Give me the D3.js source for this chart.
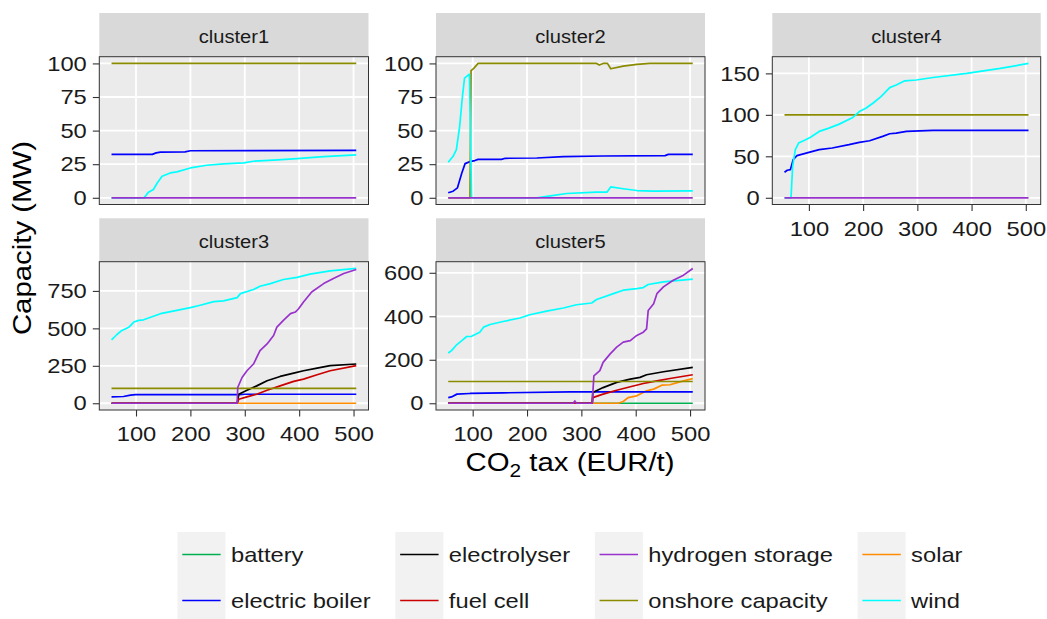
<!DOCTYPE html>
<html>
<head>
<meta charset="utf-8">
<script src="https://cdn.jsdelivr.net/npm/d3@7"></script>
<style>
  body { margin: 0; background: #fff; }
  svg { display: block; font-family: "Liberation Sans", Arial, sans-serif; }
</style>
</head>
<body>
<script>
// ---- data ----
const techs = ["battery", "electric boiler", "electrolyser", "fuel cell",
               "hydrogen storage", "onshore capacity", "solar", "wind"];
const techColors = ["#00b050", "#0000ff", "#000000", "#cc0000",
                    "#9932cc", "#8b8b00", "#ff8c00", "#00ffff"];
// order the lines are painted in (hydrogen storage ends up on top)
const drawOrder = ["battery", "solar", "electric boiler", "electrolyser",
                   "fuel cell", "onshore capacity", "wind", "hydrogen storage"];

const taxRange = [55, 505];
const xTicks = [100, 200, 300, 400, 500];
const yTicks1 = [0, 25, 50, 75, 100];
const yTicks2 = [0, 25, 50, 75, 100];
const yTicks3 = [0, 250, 500, 750];
const yTicks4 = [0, 50, 100, 150];
const yTicks5 = [0, 200, 400, 600];

// cluster1  [CO2 tax, MW]
const c1Boiler = [[55, 32.3], [130, 32.3], [137, 33.4], [145, 34], [190, 34.2], [200, 35], [505, 35.3]];
const c1H2 = [[55, 0], [505, 0]];
const c1Onshore = [[55, 100], [505, 100]];
const c1Wind = [[55, 0], [115, 0], [123, 4.2], [132, 6.2], [139, 11], [148, 16], [163, 18.5], [175, 19.3],
                [200, 22.2], [230, 24.2], [261, 25.2], [298, 26], [316, 27.2], [353, 28], [396, 29.1],
                [445, 30.6], [505, 31.9]];

// cluster2
const c2Boiler = [[55, 3.7], [64, 4.9], [72, 7.4], [80, 18.5], [86, 25.4], [95, 26.9], [104, 27.7],
                  [110, 28.6], [153, 28.6], [160, 29.4], [218, 29.6], [267, 30.6], [340, 31.1],
                  [454, 31.4], [460, 32.3], [505, 32.3]];
const c2H2 = [[55, 0], [505, 0]];
const c2Onshore = [[55, 0], [95, 0], [97, 94.6], [102, 96.3], [110, 100], [328, 100], [333, 98.8],
                   [340, 100], [348, 100], [354, 96], [377, 98], [402, 99.3], [426, 100], [505, 100]];
const c2Wind = [[55, 26.4], [64, 30.9], [70, 35.8], [76, 53], [81, 75], [85, 89], [94, 92], [98, 0],
                [218, 0], [240, 1.2], [273, 3.2], [328, 4.2], [347, 4.2], [354, 8.1], [377, 6.7],
                [402, 5.4], [432, 4.9], [505, 5.2]];

// cluster3
const c3Boiler = [[55, 43], [77, 45], [90, 54], [99, 58], [290, 58], [300, 60], [505, 60]];
const c3Electrolyser = [[55, 0], [286, 0], [289, 60], [304, 87], [322, 116], [341, 150], [365, 179],
                        [390, 201], [408, 217], [433, 235], [457, 251], [505, 262]];
const c3FuelCell = [[55, 0], [286, 0], [289, 27], [304, 43], [322, 60], [341, 87], [365, 116],
                    [390, 146], [408, 161], [433, 190], [457, 217], [505, 251]];
const c3H2 = [[55, 0], [286, 0], [287, 105], [295, 172], [304, 217], [316, 262], [328, 351], [341, 396],
              [353, 452], [359, 508], [371, 553], [384, 598], [393, 609], [399, 631], [408, 676],
              [423, 743], [445, 799], [463, 833], [482, 866], [505, 893]];
const c3Onshore = [[55, 100], [505, 100]];
const c3Solar = [[55, 0], [505, 0]];
const c3Wind = [[55, 423], [65, 459], [74, 486], [87, 508], [96, 542], [105, 553], [114, 557], [145, 598],
                [175, 620], [200, 638], [218, 654], [243, 678], [261, 683], [286, 705], [292, 732],
                [316, 759], [328, 781], [347, 799], [371, 826], [396, 840], [420, 862], [457, 884],
                [505, 900]];

// cluster4
const c4Boiler = [[55, 30.8], [60, 33.2], [66, 34], [71, 46], [78, 50.8], [100, 54.8], [119, 58],
                  [143, 60], [174, 64], [193, 66.8], [212, 68.8], [236, 74], [249, 77.2], [261, 78],
                  [280, 80], [329, 81.2], [505, 81.2]];
const c4H2 = [[55, 0], [505, 0]];
const c4Onshore = [[55, 100], [505, 100]];
const c4Wind = [[55, 0], [67, 0], [70, 38], [75, 58], [81, 66], [94, 70], [103, 73], [119, 80], [137, 84],
                [156, 88.8], [181, 96.8], [193, 104], [205, 108], [218, 114], [233, 122], [249, 132.8],
                [261, 136], [277, 141], [298, 142], [329, 145], [391, 150], [453, 156], [505, 162]];

// cluster5
const c5Battery = [[55, 0], [505, 0]];
const c5Boiler = [[55, 26], [61, 29], [71, 42], [95, 45], [156, 48], [279, 52], [505, 52]];
const c5Electrolyser = [[55, 0], [320, 0], [321, 49], [340, 72], [365, 96], [390, 111], [408, 119],
                        [420, 131], [451, 145], [505, 165]];
const c5FuelCell = [[55, 0], [320, 0], [321, 26], [340, 42], [365, 60], [390, 76], [414, 91],
                    [439, 103], [463, 114], [505, 131]];
const c5H2 = [[55, 0], [285, 0], [288, 11], [291, 0], [320, 0], [323, 126], [334, 150], [340, 188],
              [353, 227], [365, 258], [377, 281], [390, 288], [402, 312], [414, 327], [420, 342],
              [423, 427], [433, 458], [439, 504], [451, 535], [469, 566], [488, 589], [505, 620]];
const c5Onshore = [[55, 100], [505, 100]];
const c5Solar = [[55, 0], [285, 0], [288, 5], [291, 0], [368, 0], [377, 8], [386, 26], [402, 34],
                 [420, 57], [433, 65], [448, 83], [463, 85], [488, 103], [505, 113]];
const c5Wind = [[55, 231], [61, 242], [71, 270], [80, 288], [89, 307], [98, 308], [113, 327], [120, 350],
                [132, 362], [156, 376], [187, 392], [205, 407], [236, 424], [267, 438], [291, 453],
                [319, 461], [328, 477], [359, 504], [377, 520], [402, 527], [414, 532], [423, 546],
                [451, 558], [505, 571]];

// ---- layout ----
const width = 1047, height = 619;
const wide = 1.13;   // the reference type is set a bit wider than Helvetica
const color = d3.scaleOrdinal().domain(techs).range(techColors);

const panels = [
    { name: "cluster1", left: 99.3, right: 368.5, top: 13, stripH: 43.7, bottom: 204.5, yTicks: yTicks1, xAxis: false,
      series: [["electric boiler", c1Boiler], ["hydrogen storage", c1H2], ["onshore capacity", c1Onshore], ["wind", c1Wind]] },
    { name: "cluster2", left: 436, right: 705, top: 13, stripH: 43.7, bottom: 204.5, yTicks: yTicks2, xAxis: false,
      series: [["electric boiler", c2Boiler], ["hydrogen storage", c2H2], ["onshore capacity", c2Onshore], ["wind", c2Wind]] },
    { name: "cluster4", left: 772.3, right: 1040.7, top: 13, stripH: 43.7, bottom: 204.5, yTicks: yTicks4, xAxis: true,
      series: [["electric boiler", c4Boiler], ["hydrogen storage", c4H2], ["onshore capacity", c4Onshore], ["wind", c4Wind]] },
    { name: "cluster3", left: 99.3, right: 368.5, top: 218.3, stripH: 43.4, bottom: 410, yTicks: yTicks3, xAxis: true,
      series: [["electric boiler", c3Boiler], ["electrolyser", c3Electrolyser], ["fuel cell", c3FuelCell],
               ["hydrogen storage", c3H2], ["onshore capacity", c3Onshore], ["solar", c3Solar], ["wind", c3Wind]] },
    { name: "cluster5", left: 436, right: 705, top: 218.3, stripH: 43.4, bottom: 410, yTicks: yTicks5, xAxis: true,
      series: [["battery", c5Battery], ["electric boiler", c5Boiler], ["electrolyser", c5Electrolyser],
               ["fuel cell", c5FuelCell], ["hydrogen storage", c5H2], ["onshore capacity", c5Onshore],
               ["solar", c5Solar], ["wind", c5Wind]] }
];

// stretch text horizontally about its own x anchor
function widen(sel) {
    sel.each(function () {
        const t = d3.select(this);
        const x0 = +t.attr("x") || 0;
        t.attr("transform", `translate(${x0},0) scale(${wide},1) translate(${-x0},0)`);
    });
}

const svg = d3.select("body").append("svg")
    .attr("width", width)
    .attr("height", height);

svg.append("rect").attr("width", width).attr("height", height).attr("fill", "#fff");

const xPad = (taxRange[1] - taxRange[0]) * 0.05;

panels.forEach(p => {
    const g = svg.append("g");
    const panelTop = p.top + p.stripH;

    const x = d3.scaleLinear()
        .domain([taxRange[0] - xPad, taxRange[1] + xPad])
        .range([p.left, p.right]);

    const allVals = p.series.flatMap(s => s[1].map(d => d[1]));
    const yMin = d3.min(allVals), yMax = d3.max(allVals);
    const yPad = (yMax - yMin) * 0.05;
    const y = d3.scaleLinear()
        .domain([yMin - yPad, yMax + yPad])
        .range([p.bottom, panelTop]);

    // strip
    g.append("rect")
        .attr("x", p.left).attr("y", p.top)
        .attr("width", p.right - p.left).attr("height", p.stripH)
        .attr("fill", "#d9d9d9");
    g.append("text")
        .attr("x", (p.left + p.right) / 2)
        .attr("y", p.top + 30)
        .attr("text-anchor", "middle")
        .attr("font-size", 17.8)
        .attr("fill", "#1a1a1a")
        .text(p.name)
        .call(widen);

    // panel background + grid
    g.append("rect")
        .attr("x", p.left).attr("y", panelTop)
        .attr("width", p.right - p.left).attr("height", p.bottom - panelTop)
        .attr("fill", "#ebebeb");

    g.selectAll(".vgrid").data(xTicks).enter().append("line")
        .attr("x1", d => x(d)).attr("x2", d => x(d))
        .attr("y1", panelTop).attr("y2", p.bottom)
        .attr("stroke", "#fff").attr("stroke-width", 1.8);
    g.selectAll(".hgrid").data(p.yTicks).enter().append("line")
        .attr("x1", p.left).attr("x2", p.right)
        .attr("y1", d => y(d)).attr("y2", d => y(d))
        .attr("stroke", "#fff").attr("stroke-width", 1.8);

    // lines
    const lineGen = d3.line()
        .x(d => x(d[0]))
        .y(d => y(d[1]));

    const ordered = p.series.slice()
        .sort((a, b) => drawOrder.indexOf(a[0]) - drawOrder.indexOf(b[0]));

    g.selectAll(".tech-line").data(ordered).enter().append("path")
        .attr("class", "tech-line")
        .attr("fill", "none")
        .attr("stroke", d => color(d[0]))
        .attr("stroke-width", 1.7)
        .attr("stroke-linejoin", "round")
        .attr("d", d => lineGen(d[1]));

    // border
    g.append("rect")
        .attr("x", p.left).attr("y", panelTop)
        .attr("width", p.right - p.left).attr("height", p.bottom - panelTop)
        .attr("fill", "none").attr("stroke", "#333").attr("stroke-width", 1);

    // y axis
    g.append("g")
        .attr("transform", `translate(${p.left},0)`)
        .call(d3.axisLeft(y).tickValues(p.yTicks).tickSize(6.5).tickPadding(6))
        .call(a => a.select(".domain").remove())
        .call(a => a.selectAll("line").attr("stroke", "#333").attr("stroke-width", 1.1))
        .call(a => a.selectAll("text")
            .attr("fill", "#1a1a1a")
            .attr("font-size", 21)
            .attr("font-family", "Liberation Sans, Arial, sans-serif")
            .call(widen));

    // x axis
    if (p.xAxis) {
        g.append("g")
            .attr("transform", `translate(0,${p.bottom})`)
            .call(d3.axisBottom(x).tickValues(xTicks).tickSize(6.5).tickPadding(10))
            .call(a => a.select(".domain").remove())
            .call(a => a.selectAll("line").attr("stroke", "#333").attr("stroke-width", 1.1))
            .call(a => a.selectAll("text")
                .attr("fill", "#1a1a1a")
                .attr("font-size", 21)
                .attr("font-family", "Liberation Sans, Arial, sans-serif")
                .call(widen));
    }
});

// axis titles
const xTitle = svg.append("text")
    .attr("x", 570)
    .attr("y", 471)
    .attr("text-anchor", "middle")
    .attr("font-size", 26)
    .attr("fill", "#000");
xTitle.append("tspan").text("CO");
xTitle.append("tspan").attr("font-size", 18.5).attr("dy", 6).text("2");
xTitle.append("tspan").attr("dy", -6).text(" tax (EUR/t)");
xTitle.call(widen);

svg.append("text")
    .attr("transform", `translate(31,238) rotate(-90) scale(${wide},1)`)
    .attr("text-anchor", "middle")
    .attr("font-size", 26)
    .attr("fill", "#000")
    .text("Capacity (MW)");

// legend: 2 rows, filled column by column
const keyW = 48, keyH = 46, textGap = 5.5, colGap = 24.6;
const legendTop = 532;
const legend = svg.append("g");

const items = techs.map((t, i) => ({ tech: t, col: Math.floor(i / 2), row: i % 2 }));
const labels = legend.selectAll(".leg-text").data(items).enter().append("text")
    .attr("class", "leg-text")
    .attr("font-size", 21)
    .attr("fill", "#1a1a1a")
    .attr("dy", "0.35em")
    .text(d => d.tech);

const nCols = 4;
const colText = d3.range(nCols).map(c =>
    d3.max(labels.filter(d => d.col === c).nodes(), n => n.getComputedTextLength() * wide));
const colW = colText.map(w => keyW + textGap + w);
const totalW = d3.sum(colW) + colGap * (nCols - 1);
const colX = [];
let cx = 570 - totalW / 2;
colW.forEach(w => { colX.push(cx); cx += w + colGap; });

legend.selectAll(".leg-key").data(items).enter().append("rect")
    .attr("x", d => colX[d.col])
    .attr("y", d => legendTop + d.row * keyH)
    .attr("width", keyW).attr("height", keyH)
    .attr("fill", "#f2f2f2");

legend.selectAll(".leg-line").data(items).enter().append("line")
    .attr("x1", d => colX[d.col] + keyW * 0.1)
    .attr("x2", d => colX[d.col] + keyW * 0.9)
    .attr("y1", d => legendTop + d.row * keyH + keyH / 2 - 0.5)
    .attr("y2", d => legendTop + d.row * keyH + keyH / 2 - 0.5)
    .attr("stroke", d => color(d.tech))
    .attr("stroke-width", 1.7);

labels.raise()
    .attr("x", d => colX[d.col] + keyW + textGap)
    .attr("y", d => legendTop + d.row * keyH + keyH / 2)
    .call(widen);
</script>
</body>
</html>
